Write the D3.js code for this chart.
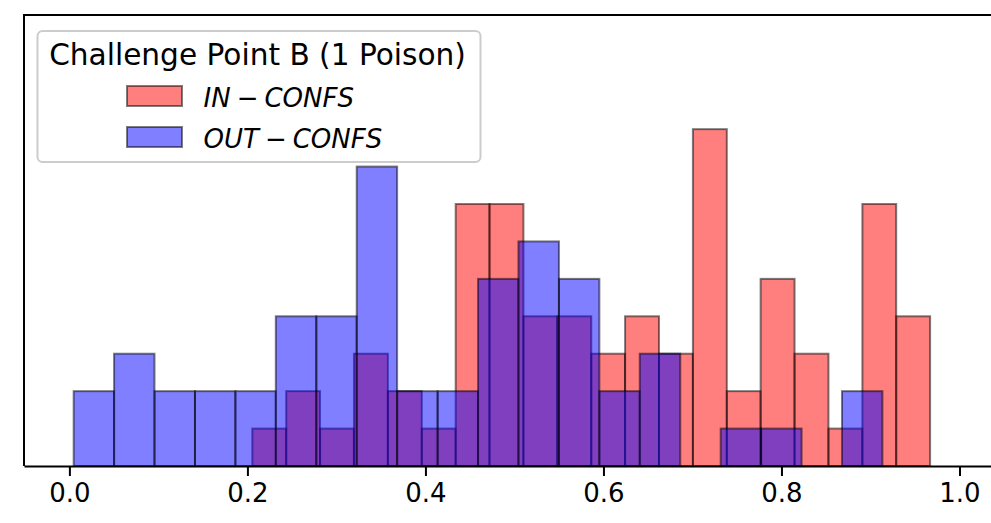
<!DOCTYPE html>
<html>
<head>
<meta charset="utf-8">
<script src="https://cdn.jsdelivr.net/npm/d3@7"></script>
<style>
  body { margin: 0; background: #fff; }
  svg { display: block; font-family: "DejaVu Sans", sans-serif; }
</style>
</head>
<body>
<div id="chart"></div>
<script>
'use strict';

// histogram bin edges and counts per bin
var inEdges = [0.2055, 0.2436, 0.2816, 0.3197, 0.3578, 0.3959, 0.4340, 0.4720, 0.5101, 0.5482,
               0.5863, 0.6243, 0.6624, 0.7005, 0.7386, 0.7766, 0.8147, 0.8528, 0.8909, 0.9289, 0.9670];
var inCounts = [1, 2, 1, 3, 2, 1, 7, 7, 4, 4, 3, 4, 3, 9, 2, 5, 3, 1, 7, 4];

var outEdges = [0.0048, 0.0502, 0.0956, 0.1411, 0.1865, 0.2319, 0.2774, 0.3228, 0.3682, 0.4137,
                0.4591, 0.5045, 0.5500, 0.5954, 0.6408, 0.6863, 0.7317, 0.7771, 0.8226, 0.8680, 0.9134];
var outCounts = [2, 3, 2, 2, 2, 4, 4, 8, 2, 2, 5, 6, 5, 2, 3, 0, 1, 1, 0, 2];

var xTicks = [0.0, 0.2, 0.4, 0.6, 0.8, 1.0];
var legendTitle = "Challenge Point B (1 Poison)";
var seriesNames = [["IN", "CONFS"], ["OUT", "CONFS"]];
var seriesColors = ["#ff0000", "#0000ff"];

var margin = {top: 15, right: -4, bottom: 57, left: 24},
    width = 991 - margin.left - margin.right,
    height = 523 - margin.top - margin.bottom;

var x = d3.scaleLinear()
    .domain([-0.051, 1.0399])
    .range([0, width]);

var y = d3.scaleLinear()
    .domain([0, 12.05])
    .range([height, 0]);

function toBins(edges, counts) {
    return counts.map(function(c, i) { return {x0: edges[i], x1: edges[i + 1], n: c}; });
}

var svg = d3.select("#chart").append("svg")
    .attr("width", 991)
    .attr("height", 523);

var g = svg.append("g")
    .attr("transform", "translate(" + margin.left + "," + margin.top + ")");

[toBins(inEdges, inCounts), toBins(outEdges, outCounts)].forEach(function(bins, k) {
    g.append("g")
        .selectAll("rect")
        .data(bins.filter(function(d) { return d.n > 0; }))
        .enter()
        .append("rect")
        .attr("x", function(d) { return x(d.x0); })
        .attr("y", function(d) { return y(d.n); })
        .attr("width", function(d) { return x(d.x1) - x(d.x0); })
        .attr("height", function(d) { return y(0) - y(d.n); })
        .attr("fill", seriesColors[k])
        .attr("fill-opacity", 0.5)
        .attr("stroke", "#000")
        .attr("stroke-opacity", 0.5)
        .attr("stroke-width", 2);
});

// spines: left, top, bottom (right one is cut off by the picture)
g.append("path")
    .attr("d", "M0," + height + "V0H" + (width + 10))
    .attr("fill", "none")
    .attr("stroke", "#000")
    .attr("stroke-width", 2);

var xAxis = g.append("g")
    .attr("transform", "translate(0," + height + ")")
    .call(d3.axisBottom(x).tickValues(xTicks).tickFormat(d3.format(".1f"))
        .tickSize(10).tickSizeOuter(0).tickPadding(8));

xAxis.select(".domain")
    .attr("stroke-width", 2);
xAxis.selectAll(".tick line")
    .attr("stroke-width", 2);
xAxis.selectAll(".tick text")
    .attr("font-size", 26)
    .attr("font-family", "DejaVu Sans")
    .attr("fill", "#000");

// legend
var legend = svg.append("g")
    .attr("transform", "translate(37.5,31)");

legend.append("rect")
    .attr("width", 443)
    .attr("height", 131)
    .attr("rx", 5)
    .attr("fill", "#fff")
    .attr("fill-opacity", 0.8)
    .attr("stroke", "#cccccc")
    .attr("stroke-width", 2);

legend.append("text")
    .attr("x", 220)
    .attr("y", 33.5)
    .attr("text-anchor", "middle")
    .attr("font-size", 29.6)
    .attr("fill", "#000")
    .text(legendTitle);

var entry = legend.selectAll(".entry")
    .data(seriesNames)
    .enter()
    .append("g")
    .attr("class", "entry")
    .attr("transform", function(d, i) { return "translate(0," + (55 + i * 41) + ")"; });

entry.append("rect")
    .attr("x", 89.5)
    .attr("width", 55)
    .attr("height", 20)
    .attr("fill", function(d, i) { return seriesColors[i]; })
    .attr("fill-opacity", 0.5)
    .attr("stroke", "#000")
    .attr("stroke-opacity", 0.5)
    .attr("stroke-width", 2);

var label = entry.append("text")
    .attr("x", 166)
    .attr("y", 20.5)
    .attr("font-size", 26)
    .attr("fill", "#000");

label.append("tspan")
    .attr("font-style", "italic")
    .text(function(d) { return d[0]; });
label.append("tspan")
    .attr("dx", 6)
    .text("\u2212");
label.append("tspan")
    .attr("dx", 6)
    .attr("font-style", "italic")
    .text(function(d) { return d[1]; });
</script>
</body>
</html>
